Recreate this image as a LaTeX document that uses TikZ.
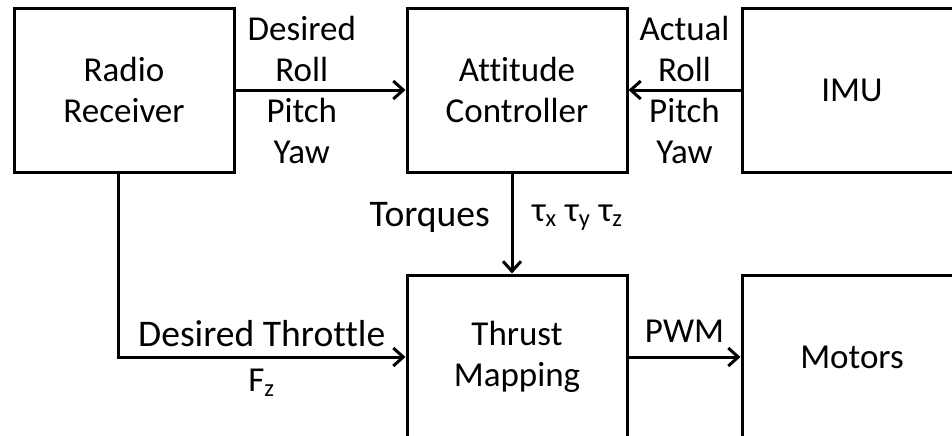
\documentclass[tikz,border=0pt]{standalone}
\usepackage{fontspec}
\setmainfont{Carlito}[Ligatures=NoCommon]
\usetikzlibrary{arrows.meta, positioning}
\tikzset{
  block/.style = {rectangle, draw=black, line width=1.5pt,
      minimum width=110pt, minimum height=82pt,
      align=center, inner sep=0pt},
  sig/.style = {line width=1.5pt, -{Straight Barb[length=5pt, width=9pt, line width=1.5pt]}},
  lbl/.style = {align=center, inner sep=2pt},
  big/.style = {font=\fontsize{18.8}{23}\selectfont},
}

\begin{document}
\begin{tikzpicture}[x=0.5pt, y=-0.5pt, font=\fontsize{17.5}{20.5}\selectfont]
  \clip (0,0) rectangle (952,435);
  \useasboundingbox (0,0) rectangle (952,435);

  \node[block] (radio) at (124,90) {Radio\\Receiver};
  \node[block] (att) at (517,90) {Attitude\\Controller};
  \node[block] (imu) at (852,90) {IMU};
  \node[block] (thrust) at (517,357) {Thrust\\Mapping};
  \node[block] (motors) at (852,357) {Motors};

  \draw[sig] (radio) -- node[lbl, pos=.39] {Desired\\Roll\\Pitch\\Yaw} (att);
  \draw[sig] (imu) -- node[lbl, midway] {Actual\\Roll\\Pitch\\Yaw} (att);
  \draw[sig] ([xshift=-2.5pt]att.south) -- node[midway, left=7pt, yshift=3pt, big] {Torques}
    node[midway, right=6pt, yshift=3pt] {τ\textsubscript{x} τ\textsubscript{y} τ\textsubscript{z}} ([xshift=-2.5pt]thrust.north);
  \draw[sig] ([xshift=-3pt]radio.south) |- node[pos=.75, above=1pt, big] {Desired Throttle}
    node[pos=.75, below=2pt] {F\textsubscript{z}} (thrust);
  \draw[sig] (thrust) -- node[midway, above=3pt] {PWM} (motors);
\end{tikzpicture}
\end{document}
